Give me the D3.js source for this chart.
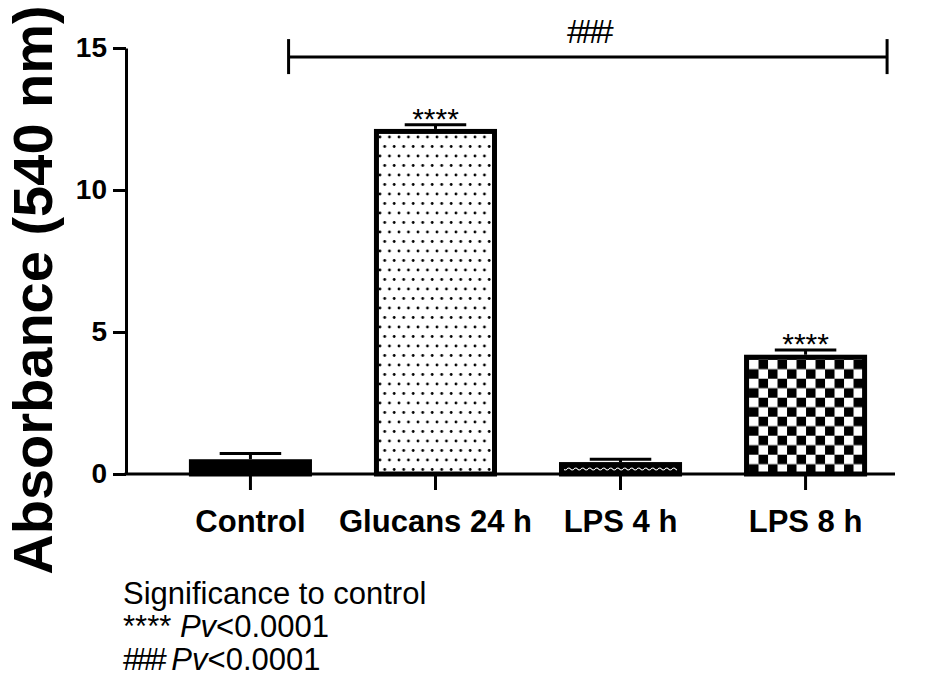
<!DOCTYPE html>
<html>
<head>
<meta charset="utf-8">
<title>Absorbance (540 nm)</title>
<script src="https://d3js.org/d3.v7.min.js"></script>
<style>
  body { margin: 0; background: #fff; }
  svg { display: block; font-family: "Liberation Sans", Arial, sans-serif; }
</style>
</head>
<body>
<svg id="chart" width="935" height="686"></svg>
<script>
// data
var groups = ["Control", "Glucans 24 h", "LPS 4 h", "LPS 8 h"];
var means = [0.52, 12.15, 0.42, 4.2];
var errors = [0.2, 0.15, 0.1, 0.17];
var stars = ["", "****", "", "****"];
var fills = ["solid", "dots", "wave", "checker"];
var yTicks = [0, 5, 10, 15];
var legendLines = ["Significance to control", "****", "###"];

var svg = d3.select("#chart");

var y = d3.scaleLinear().domain([0, 15]).range([474, 48]);
var x = d3.scaleBand().domain(groups).range([126, 930])
    .paddingInner(0.335).paddingOuter(0.34);

// patterns
var defs = svg.append("defs");

var dots = defs.append("pattern").attr("id", "dots")
    .attr("patternUnits", "userSpaceOnUse")
    .attr("width", 9.5).attr("height", 19)
    .attr("patternTransform", "translate(" + (x("Glucans 24 h") + 4) + ",135)");
dots.append("rect").attr("width", 9.5).attr("height", 19).attr("fill", "#fff");
dots.append("circle").attr("cx", 2).attr("cy", 2).attr("r", 1.4).attr("fill", "#000");
dots.append("circle").attr("cx", 6.75).attr("cy", 11.5).attr("r", 1.4).attr("fill", "#000");

var checker = defs.append("pattern").attr("id", "checker")
    .attr("patternUnits", "userSpaceOnUse")
    .attr("width", 19).attr("height", 19)
    .attr("patternTransform", "translate(" + (x("LPS 8 h") + 5) + "," + (y(4.2) + 5) + ")");
checker.append("rect").attr("width", 19).attr("height", 19).attr("fill", "#fff");
checker.append("rect").attr("x", 9.5).attr("width", 9.5).attr("height", 9.5).attr("fill", "#000");
checker.append("rect").attr("y", 9.5).attr("width", 9.5).attr("height", 9.5).attr("fill", "#000");

var wave = defs.append("pattern").attr("id", "wave")
    .attr("patternUnits", "userSpaceOnUse")
    .attr("width", 7).attr("height", 14)
    .attr("patternTransform", "translate(0,462)");
wave.append("rect").attr("width", 7).attr("height", 14).attr("fill", "#000");
wave.append("path").attr("d", "M0,7 Q1.75,5 3.5,7 T7,7")
    .attr("fill", "none").attr("stroke", "#fff").attr("stroke-width", 1.1);

var fillOf = { solid: "#000", dots: "url(#dots)", wave: "url(#wave)", checker: "url(#checker)" };

var data = groups.map(function(g, i) {
    return { name: g, mean: means[i], err: errors[i], star: stars[i], fill: fills[i] };
});

// bars
svg.selectAll("rect.bar").data(data).enter().append("rect")
    .attr("class", "bar")
    .attr("x", function(d) { return x(d.name) + 2.5; })
    .attr("width", x.bandwidth() - 5)
    .attr("y", function(d) { return y(d.mean) + 2.5; })
    .attr("height", function(d) { return y(0) - y(d.mean) - 2.5; })
    .attr("fill", function(d) { return fillOf[d.fill]; })
    .attr("stroke", "#000")
    .attr("stroke-width", 5);

// error bars (upper only)
var eb = svg.selectAll("g.err").data(data).enter().append("g").attr("class", "err");
eb.append("line")
    .attr("x1", function(d) { return x(d.name) + x.bandwidth() / 2; })
    .attr("x2", function(d) { return x(d.name) + x.bandwidth() / 2; })
    .attr("y1", function(d) { return y(d.mean); })
    .attr("y2", function(d) { return y(d.mean + d.err); })
    .attr("stroke", "#000").attr("stroke-width", 3);
eb.append("line")
    .attr("x1", function(d) { return x(d.name) + x.bandwidth() * 0.25; })
    .attr("x2", function(d) { return x(d.name) + x.bandwidth() * 0.75; })
    .attr("y1", function(d) { return y(d.mean + d.err); })
    .attr("y2", function(d) { return y(d.mean + d.err); })
    .attr("stroke", "#000").attr("stroke-width", 3);
eb.append("text")
    .attr("x", function(d) { return x(d.name) + x.bandwidth() / 2; })
    .attr("y", function(d) { return y(d.mean + d.err) + 4; })
    .attr("text-anchor", "middle")
    .style("font-size", "30px")
    .text(function(d) { return d.star; });

// axes
var yAxis = svg.append("g")
    .attr("transform", "translate(126,0)")
    .call(d3.axisLeft(y).tickValues(yTicks).tickSize(13).tickSizeOuter(0).tickPadding(6));
yAxis.selectAll("text").style("font-size", "28px").style("font-weight", "bold")
    .style("font-family", "'Liberation Sans', Arial, sans-serif").attr("fill", "#000");
yAxis.selectAll("line, path").attr("stroke", "#000").attr("stroke-width", 3);

var xAxis = svg.append("g")
    .attr("transform", "translate(0," + y(0) + ")")
    .call(d3.axisBottom(x).tickSize(16).tickPadding(20).tickSizeOuter(0));
xAxis.select(".domain").remove();
xAxis.append("line").attr("x1", 124.5).attr("x2", 895).attr("y1", 0).attr("y2", 0)
    .attr("stroke", "#000").attr("stroke-width", 3);
xAxis.selectAll("line").attr("stroke", "#000").attr("stroke-width", 3);
xAxis.selectAll("text").style("font-size", "31px").style("font-weight", "bold")
    .style("font-family", "'Liberation Sans', Arial, sans-serif").attr("fill", "#000");

// y title
svg.append("text")
    .attr("transform", "translate(52,290) rotate(-90)")
    .attr("text-anchor", "middle")
    .style("font-size", "56px")
    .style("font-weight", "bold")
    .text("Absorbance (540 nm)");

// ### bracket
var bx1 = x("Control") + x.bandwidth() * 0.81;
var bx2 = x("LPS 8 h") + x.bandwidth() + 20;
var by = y(14.68);
var br = svg.append("g").attr("stroke", "#000").attr("stroke-width", 3);
br.append("line").attr("x1", bx1).attr("x2", bx2).attr("y1", by).attr("y2", by);
br.append("line").attr("x1", bx1).attr("x2", bx1).attr("y1", by - 18).attr("y2", by + 17);
br.append("line").attr("x1", bx2).attr("x2", bx2).attr("y1", by - 18).attr("y2", by + 17);
svg.append("text")
    .attr("x", (bx1 + bx2) / 2).attr("y", 43)
    .attr("text-anchor", "middle")
    .style("font-size", "34px")
    .style("letter-spacing", "-5px")
    .text("###");

// legend
var leg = svg.append("g").attr("transform", "translate(123,0)").style("font-size", "31px");
leg.append("text").attr("y", 604).text(legendLines[0]);
[legendLines[1], legendLines[2]].forEach(function(s, i) {
    var t = leg.append("text").attr("y", 637 + i * 33);
    t.append("tspan").text(s).style("letter-spacing", i == 1 ? "-4px" : "0px");
    t.append("tspan").text(" ").style("letter-spacing", "0px");
    t.append("tspan").style("font-style", "italic").text("Pv");
    t.append("tspan").text("<0.0001");
});
</script>
</body>
</html>
